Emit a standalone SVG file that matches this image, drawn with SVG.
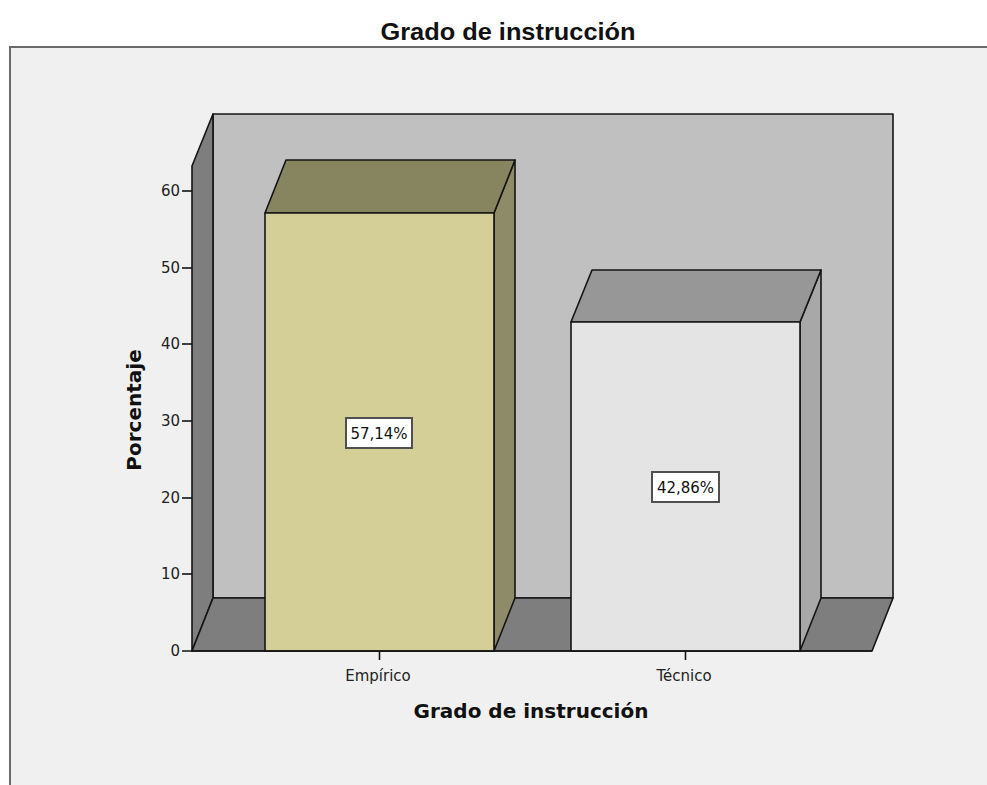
<svg xmlns="http://www.w3.org/2000/svg" width="987" height="785" viewBox="0 0 987 785">
<style>
.ol{stroke:#141414;stroke-width:1.6;stroke-linejoin:round}
.tick{stroke:#141414;stroke-width:1.6}
.tl{font-family:"DejaVu Sans",sans-serif;font-size:15px;fill:#222}
.ttl{font-family:"DejaVu Sans",sans-serif;font-weight:bold;font-size:20px;fill:#111}
.lbl{font-family:"DejaVu Sans",sans-serif;font-size:15px;fill:#111;text-anchor:middle}
.box{fill:#ffffff;stroke:#505050;stroke-width:2}
</style>
<rect x="0" y="0" width="987" height="785" fill="#ffffff"/>
<text x="508" y="40" text-anchor="middle" font-family="Liberation Sans, Arial, sans-serif" font-weight="bold" font-size="24" fill="#111" textLength="255" lengthAdjust="spacingAndGlyphs">Grado de instrucción</text>
<rect id="frame" x="10" y="47" width="990" height="750" fill="#f0f0f0" stroke="#6a6a6a" stroke-width="2"/>
<g id="walls">
<rect x="213" y="114" width="680" height="484" fill="#c0c0c0" class="ol"/>
<polygon points="192,166 213,114 213,598 192,651" fill="#7e7e7e" class="ol"/>
<polygon points="192,651 213,598 893,598 872,651" fill="#7e7e7e" class="ol"/>
</g>
<g id="bar-empirico">
<polygon points="494,213 515,160 515,598 494,651" fill="#8e8b69" class="ol"/>
<polygon points="265,213 286,160 515,160 494,213" fill="#878560" class="ol"/>
<rect x="265" y="213" width="229" height="438" fill="#d4cf97" class="ol"/>
<rect class="box" x="346" y="418" width="66" height="30"/>
<text class="lbl" x="379" y="439">57,14%</text>
</g>
<g id="bar-tecnico">
<polygon points="800,322 821,270 821,598 800,651" fill="#a8a8a8" class="ol"/>
<polygon points="571,322 592,270 821,270 800,322" fill="#979797" class="ol"/>
<rect x="571" y="322" width="229" height="329" fill="#e4e4e4" class="ol"/>
<rect class="box" x="652" y="472" width="67" height="30"/>
<text class="lbl" x="685.5" y="493">42,86%</text>
</g>
<g id="axes">
<line class="tick" x1="182" y1="651" x2="872" y2="651"/>
<line class="tick" x1="182" y1="574" x2="192" y2="574"/>
<line class="tick" x1="182" y1="498" x2="192" y2="498"/>
<line class="tick" x1="182" y1="421" x2="192" y2="421"/>
<line class="tick" x1="182" y1="344" x2="192" y2="344"/>
<line class="tick" x1="182" y1="268" x2="192" y2="268"/>
<line class="tick" x1="182" y1="191" x2="192" y2="191"/>
<line class="tick" x1="379.5" y1="651" x2="379.5" y2="660"/>
<line class="tick" x1="685.5" y1="651" x2="685.5" y2="660"/>
<g class="tl" text-anchor="end">
<text x="180" y="656">0</text>
<text x="180" y="579">10</text>
<text x="180" y="503">20</text>
<text x="180" y="426">30</text>
<text x="180" y="349">40</text>
<text x="180" y="273">50</text>
<text x="180" y="196">60</text>
</g>
<text class="tl" x="378" y="681" text-anchor="middle">Empírico</text>
<text class="tl" x="684" y="681" text-anchor="middle">Técnico</text>
<text class="ttl" x="531" y="718" text-anchor="middle">Grado de instrucción</text>
<text class="ttl" transform="translate(141,410) rotate(-90)" text-anchor="middle">Porcentaje</text>
</g>
</svg>
